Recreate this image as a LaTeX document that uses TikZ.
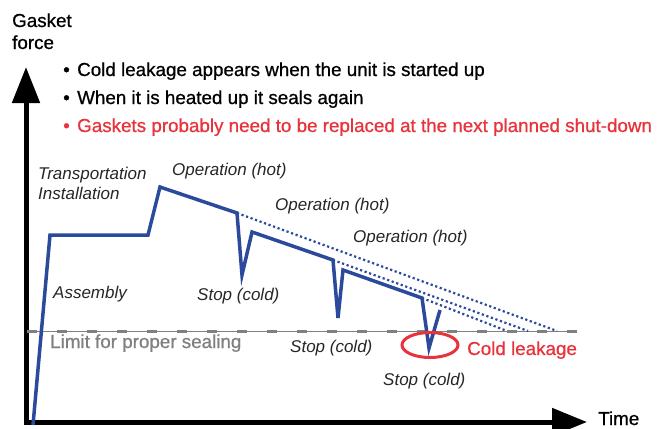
\documentclass[tikz,border=0pt]{standalone}
\usepackage{fontspec}
\setmainfont{Liberation Sans}
\newfontfamily\medfont[FakeBold=0.8]{Liberation Sans}
\usetikzlibrary{arrows.meta}
\definecolor{curveblue}{RGB}{43,74,156}
\definecolor{leakred}{RGB}{232,50,60}
\definecolor{limitgrey}{RGB}{128,128,128}
\begin{document}
\begin{tikzpicture}[x=1pt,y=-1pt,
  lbl/.style={anchor=base west, inner sep=0pt, font=\medfont\fontsize{18.8}{20}\selectfont},
  itl/.style={anchor=base west, inner sep=0pt, font=\fontsize{17}{19}\selectfont\itshape, text=black!85},
  bul/.style={anchor=base, inner sep=0pt, font=\medfont\fontsize{18.8}{20}\selectfont},
  curve/.style={draw=curveblue, line width=3.5pt, line join=miter},
  trend/.style={draw=curveblue, line width=2.2pt, dash pattern=on 2.2pt off 2.6pt},
  axis/.style={line width=5pt, {Triangle[length=36pt,width=27pt]}-{Triangle[length=35pt,width=27pt]}},
  limitline/.style={draw=limitgrey, line width=1pt},
  limitdash/.style={draw=limitgrey, line width=3pt, dash pattern=on 10pt off 20pt},
  leak/.style={draw=leakred, line width=3pt}
]
\useasboundingbox (0,0) rectangle (666,428);

% axes
\coordinate (ytip) at (26,67);
\coordinate (origin) at (26,422);
\coordinate (xtip) at (587,422);
\draw[axis] (ytip) -- (origin) -- (xtip);

% limit line
\coordinate (limL) at (27,331);
\coordinate (limR) at (577,331);
\draw[limitline] (limL) -- (limR);
\draw[limitdash] (limL) -- (limR);

% curve points
\coordinate (a0) at (33,425);
\coordinate (a1) at (50,235);
\coordinate (a2) at (148,235);
\coordinate (a3) at (160,187);
\coordinate (a4) at (237,213);
\coordinate (a5) at (242,275);
\coordinate (a6) at (252,232);
\coordinate (a7) at (333,260);
\coordinate (a8) at (338,318);
\coordinate (a9) at (343,270);
\coordinate (a10) at (422,298);
\coordinate (a11) at (429,348);
\coordinate (a12) at (440,310);
\coordinate (e1) at (557,331);
\coordinate (e2) at (528,331);
\coordinate (e3) at (507,331);

% trend lines
\draw[trend] (a4) -- (e1);
\draw[trend] (a7) -- (e2);
\draw[trend] (a10) -- (e3);

% gasket force curve
\draw[curve] (a0) -- (a1) -- (a2) -- (a3) -- (a4) -- (a5) -- (a6) -- (a7) -- (a8) -- (a9) -- (a10) -- (a11) -- (a12);

% cold leakage ellipse
\draw[leak] (430,345) ellipse [x radius=28pt, y radius=12.5pt];

% texts
\node[lbl] (gasket) at (12,27) {Gasket};
\node[lbl] (force) at (12,49) {force};
\node[lbl] (time) at (598,425) {Time};

\node[bul] (b1) at (66.5,76) {\textbullet};
\node[bul] (b2) at (66.5,104) {\textbullet};
\node[bul, text=leakred] (b3) at (66.5,132) {\textbullet};
\node[lbl] (t1) at (77,76) {Cold leakage appears when the unit is started up};
\node[lbl] (t2) at (77,104) {When it is heated up it seals again};
\node[lbl, text=leakred] (t3) at (77,132) {Gaskets probably need to be replaced at the next planned shut-down};

\node[itl] (trans) at (38,179) {Transportation};
\node[itl] (inst) at (38,199) {Installation};
\node[itl] (op1) at (172,175) {Operation (hot)};
\node[itl] (op2) at (275,210) {Operation (hot)};
\node[itl] (op3) at (353,242) {Operation (hot)};
\node[itl] (asm) at (53,298) {Assembly};
\node[itl] (st1) at (197,300) {Stop (cold)};
\node[itl] (st2) at (290,352) {Stop (cold)};
\node[itl] (st3) at (383,385) {Stop (cold)};

\node[lbl, text=limitgrey] (limit) at (50,348) {Limit for proper sealing};
\node[lbl, text=leakred] (cold) at (467,355) {Cold leakage};
\end{tikzpicture}
\end{document}
